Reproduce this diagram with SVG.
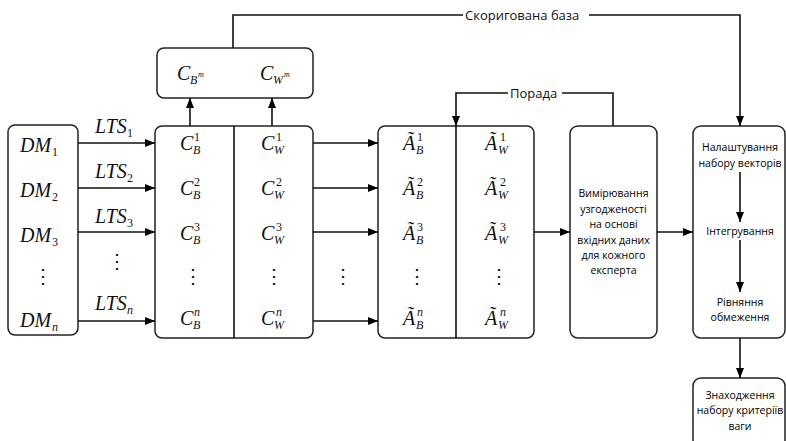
<svg xmlns="http://www.w3.org/2000/svg" width="786" height="441" viewBox="0 0 786 441">
<defs>
<marker id="ah" viewBox="0 0 10 10" refX="10" refY="5" markerWidth="10" markerHeight="10" markerUnits="userSpaceOnUse" orient="auto">
<path d="M0,1 L10,5 L0,9 Z" fill="#000"/>
</marker>
<style>
.box{fill:#fff;stroke:#222;stroke-width:1.5}
.ln{fill:none;stroke:#111;stroke-width:1.6}
.m{font-family:"Liberation Serif",serif;font-style:italic;font-size:20px;fill:#111}
.s{font-family:"Liberation Serif",serif;font-style:italic;font-size:12px;fill:#111}
.u{font-family:"Liberation Serif",serif;font-size:12px;fill:#111}
.d{font-family:"Liberation Serif",serif;font-size:20px;fill:#111;text-anchor:middle}
.t{font-family:"Open Sans",sans-serif;font-size:10.5px;fill:#000;text-anchor:middle}
.lb{font-family:"Open Sans",sans-serif;font-size:13px;fill:#111}
</style>
</defs>
<g id="dm">
<rect class="box" x="8" y="125" width="70" height="210" rx="7"/>
<text class="m" x="20" y="152">DM</text><text class="u" x="52" y="156">1</text>
<text class="m" x="20" y="197">DM</text><text class="u" x="52" y="201">2</text>
<text class="m" x="20" y="242">DM</text><text class="u" x="52" y="246">3</text>
<text class="d" x="43" y="283">⋮</text>
<text class="m" x="20" y="327">DM</text><text class="s" x="52" y="331">n</text>
</g>
<g id="cm">
<rect class="box" x="157" y="48" width="156" height="50" rx="7"/>
<text class="m" x="177" y="80">C</text><text class="s" x="190" y="84">B</text><text class="s" x="198" y="77" style="font-size:8px">m</text>
<text class="m" x="260" y="80">C</text><text class="s" x="273" y="84">W</text><text class="s" x="284" y="77" style="font-size:8px">m</text>
</g>
<g id="c">
<rect class="box" x="155" y="126" width="158" height="212" rx="7"/>
<line class="ln" x1="234" y1="126" x2="234" y2="338"/>
<text class="m" x="180" y="150">C</text><text class="s" x="193" y="154">B</text><text class="u" x="194" y="141">1</text>
<text class="m" x="180" y="195">C</text><text class="s" x="193" y="199">B</text><text class="u" x="194" y="186">2</text>
<text class="m" x="180" y="240">C</text><text class="s" x="193" y="244">B</text><text class="u" x="194" y="231">3</text>
<text class="d" x="193" y="283">⋮</text>
<text class="m" x="180" y="325">C</text><text class="s" x="193" y="329">B</text><text class="s" x="194" y="316">n</text>
<text class="m" x="261" y="150">C</text><text class="s" x="274" y="154">W</text><text class="u" x="276" y="141">1</text>
<text class="m" x="261" y="195">C</text><text class="s" x="274" y="199">W</text><text class="u" x="276" y="186">2</text>
<text class="m" x="261" y="240">C</text><text class="s" x="274" y="244">W</text><text class="u" x="276" y="231">3</text>
<text class="d" x="274" y="283">⋮</text>
<text class="m" x="261" y="325">C</text><text class="s" x="274" y="329">W</text><text class="s" x="276" y="316">n</text>
</g>
<g id="a">
<rect class="box" x="378" y="126" width="156" height="212" rx="7"/>
<line class="ln" x1="456" y1="126" x2="456" y2="338"/>
<text class="m" x="403" y="150">Ã</text><text class="s" x="416" y="154">B</text><text class="u" x="417" y="141">1</text>
<text class="m" x="403" y="195">Ã</text><text class="s" x="416" y="199">B</text><text class="u" x="417" y="186">2</text>
<text class="m" x="403" y="240">Ã</text><text class="s" x="416" y="244">B</text><text class="u" x="417" y="231">3</text>
<text class="d" x="417" y="283">⋮</text>
<text class="m" x="403" y="325">Ã</text><text class="s" x="416" y="329">B</text><text class="s" x="417" y="316">n</text>
<text class="m" x="485" y="150">Ã</text><text class="s" x="498" y="154">W</text><text class="u" x="500" y="141">1</text>
<text class="m" x="485" y="195">Ã</text><text class="s" x="498" y="199">W</text><text class="u" x="500" y="186">2</text>
<text class="m" x="485" y="240">Ã</text><text class="s" x="498" y="244">W</text><text class="u" x="500" y="231">3</text>
<text class="d" x="499" y="283">⋮</text>
<text class="m" x="485" y="325">Ã</text><text class="s" x="498" y="329">W</text><text class="s" x="500" y="316">n</text>
</g>
<g id="measure">
<rect class="box" x="570" y="126" width="87" height="212" rx="8"/>
<text class="t" x="613.5" y="197">Вимірювання</text>
<text class="t" x="613.5" y="213">узгодженості</text>
<text class="t" x="613.5" y="228">на основі</text>
<text class="t" x="613.5" y="244">вхідних даних</text>
<text class="t" x="613.5" y="259">для кожного</text>
<text class="t" x="613.5" y="274">експерта</text>
</g>
<g id="tune">
<rect class="box" x="693" y="126" width="92" height="212" rx="8"/>
<text class="t" x="740" y="151">Налаштування</text>
<text class="t" x="740" y="167">набору векторів</text>
<text class="t" x="740" y="235">Інтегрування</text>
<text class="t" x="740" y="306">Рівняння</text>
<text class="t" x="740" y="321">обмеження</text>
</g>
<g id="find">
<rect class="box" x="693" y="378" width="92" height="70" rx="8"/>
<text class="t" x="740" y="399">Знаходження</text>
<text class="t" x="740" y="414">набору критеріїв</text>
<text class="t" x="740" y="430">ваги</text>
</g>
<g id="connectors">
<line class="ln" x1="78" y1="143" x2="155" y2="143" marker-end="url(#ah)"/>
<line class="ln" x1="78" y1="188" x2="155" y2="188" marker-end="url(#ah)"/>
<line class="ln" x1="78" y1="232" x2="155" y2="232" marker-end="url(#ah)"/>
<line class="ln" x1="78" y1="321" x2="155" y2="321" marker-end="url(#ah)"/>
<line class="ln" x1="313" y1="143" x2="378" y2="143" marker-end="url(#ah)"/>
<line class="ln" x1="313" y1="188" x2="378" y2="188" marker-end="url(#ah)"/>
<line class="ln" x1="313" y1="232" x2="378" y2="232" marker-end="url(#ah)"/>
<line class="ln" x1="313" y1="321" x2="378" y2="321" marker-end="url(#ah)"/>
<line class="ln" x1="190" y1="126" x2="190" y2="98" marker-end="url(#ah)"/>
<line class="ln" x1="272" y1="126" x2="272" y2="98" marker-end="url(#ah)"/>
<path class="ln" d="M233 48 V15 H463"/>
<path class="ln" d="M589 15 H740 V126" marker-end="url(#ah)"/>
<path class="ln" d="M613 126 V93 H562"/>
<path class="ln" d="M508 93 H456 V126" marker-end="url(#ah)"/>
<line class="ln" x1="534" y1="232" x2="570" y2="232" marker-end="url(#ah)"/>
<line class="ln" x1="657" y1="232" x2="693" y2="232" marker-end="url(#ah)"/>
<line class="ln" x1="740" y1="172" x2="740" y2="222" marker-end="url(#ah)"/>
<line class="ln" x1="740" y1="240" x2="740" y2="292" marker-end="url(#ah)"/>
<line class="ln" x1="740" y1="338" x2="740" y2="378" marker-end="url(#ah)"/>
<text class="lb" x="465" y="20">Скоригована база</text>
<text class="lb" x="510" y="98">Порада</text>
<text class="m" x="95" y="133">LTS</text><text class="u" x="127" y="137">1</text>
<text class="m" x="95" y="178">LTS</text><text class="u" x="127" y="182">2</text>
<text class="m" x="95" y="223">LTS</text><text class="u" x="127" y="227">3</text>
<text class="d" x="117" y="268">⋮</text>
<text class="m" x="95" y="310">LTS</text><text class="s" x="127" y="314">n</text>
<text class="d" x="343" y="283">⋮</text>
</g>
</svg>
